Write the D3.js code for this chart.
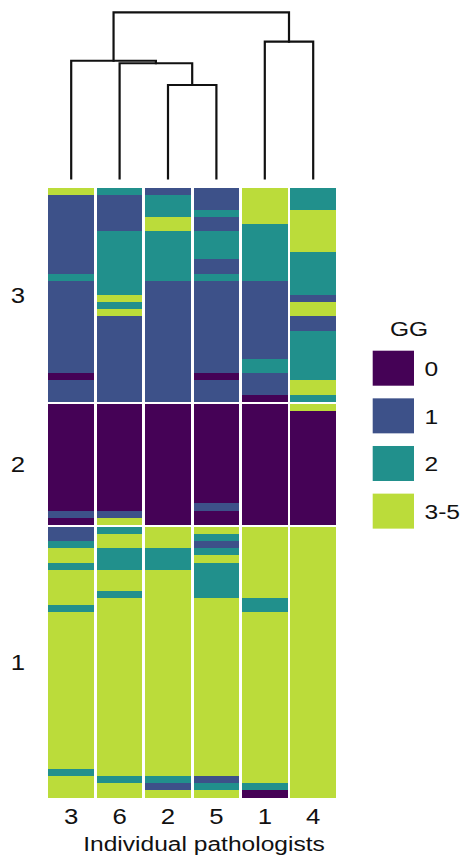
<!DOCTYPE html>
<html>
<head>
<meta charset="utf-8">
<script src="https://cdn.jsdelivr.net/npm/d3@7"></script>
<style>
  html, body { margin: 0; padding: 0; background: #ffffff; }
  svg { display: block; }
  text { font-family: "Liberation Sans", Arial, Helvetica, sans-serif; fill: #111; }
</style>
</head>
<body>
<svg id="chart" width="461" height="858"></svg>
<script>
// ---------------- DATA ----------------
// Column order (as in the dendrogram)
const pathologists = ["3", "6", "2", "5", "1", "4"];
// Grade categories (code 0..3)
const gradeLabels = ["0", "1", "2", "3-5"];
const gradeColors = ["#450256", "#3d5189", "#21908c", "#bbdc3a"];
// Row groups (top to bottom)
const rowGroups = ["3", "2", "1"];

// Each row = one case; values per pathologist in column order [3,6,2,5,1,4]
const casesGroup3 = [
  [3,2,1,1,3,2],
  [1,1,2,1,3,2],
  [1,1,2,1,3,2],
  [1,1,2,2,3,3],
  [1,1,3,1,3,3],
  [1,1,3,1,2,3],
  [1,2,2,2,2,3],
  [1,2,2,2,2,3],
  [1,2,2,2,2,3],
  [1,2,2,2,2,2],
  [1,2,2,1,2,2],
  [1,2,2,1,2,2],
  [2,2,2,2,2,2],
  [1,2,1,1,1,2],
  [1,2,1,1,1,2],
  [1,3,1,1,1,1],
  [1,2,1,1,1,3],
  [1,3,1,1,1,3],
  [1,1,1,1,1,1],
  [1,1,1,1,1,1],
  [1,1,1,1,1,2],
  [1,1,1,1,1,2],
  [1,1,1,1,1,2],
  [1,1,1,1,1,2],
  [1,1,1,1,2,2],
  [1,1,1,1,2,2],
  [0,1,1,0,1,2],
  [1,1,1,1,1,3],
  [1,1,1,1,1,3],
  [1,1,1,1,0,2]
];
const casesGroup2 = [
  [0,0,0,0,0,3],
  [0,0,0,0,0,0],
  [0,0,0,0,0,0],
  [0,0,0,0,0,0],
  [0,0,0,0,0,0],
  [0,0,0,0,0,0],
  [0,0,0,0,0,0],
  [0,0,0,0,0,0],
  [0,0,0,0,0,0],
  [0,0,0,0,0,0],
  [0,0,0,0,0,0],
  [0,0,0,0,0,0],
  [0,0,0,0,0,0],
  [0,0,0,0,0,0],
  [0,0,0,1,0,0],
  [1,1,0,0,0,0],
  [0,3,0,0,0,0]
];
const casesGroup1 = [
  [1,2,3,3,3,3],
  [1,3,3,2,3,3],
  [2,3,3,1,3,3],
  [3,2,2,2,3,3],
  [3,2,2,3,3,3],
  [2,2,2,2,3,3],
  [3,3,3,2,3,3],
  [3,3,3,2,3,3],
  [3,3,3,2,3,3],
  [3,2,3,2,3,3],
  [3,3,3,3,2,3],
  [2,3,3,3,2,3],
  [3,3,3,3,3,3],
  [3,3,3,3,3,3],
  [3,3,3,3,3,3],
  [3,3,3,3,3,3],
  [3,3,3,3,3,3],
  [3,3,3,3,3,3],
  [3,3,3,3,3,3],
  [3,3,3,3,3,3],
  [3,3,3,3,3,3],
  [3,3,3,3,3,3],
  [3,3,3,3,3,3],
  [3,3,3,3,3,3],
  [3,3,3,3,3,3],
  [3,3,3,3,3,3],
  [3,3,3,3,3,3],
  [3,3,3,3,3,3],
  [3,3,3,3,3,3],
  [3,3,3,3,3,3],
  [3,3,3,3,3,3],
  [3,3,3,3,3,3],
  [3,3,3,3,3,3],
  [3,3,3,3,3,3],
  [2,3,3,3,3,3],
  [3,2,2,1,3,3],
  [3,3,1,2,2,3],
  [3,3,3,3,0,3]
];

// Column dendrogram (merge heights)
const dendrogram = {
  height: 10, children: [
    { height: 7.08, children: [
      { name: "3", height: 0 },
      { height: 6.93, children: [
        { name: "6", height: 0 },
        { height: 5.62, children: [
          { name: "2", height: 0 },
          { name: "5", height: 0 }
        ]}
      ]}
    ]},
    { height: 8.23, children: [
      { name: "1", height: 0 },
      { name: "4", height: 0 }
    ]}
  ]
};

const xAxisTitle = "Individual pathologists";
const legendTitle = "GG";

// ---------------- DRAW ----------------
const svg = d3.select("#chart");
const SX = 1.17;     // horizontal stretch of the original typesetting
const FS = 21;       // title font size
const FD = 22;       // digit label font size

const groups = [casesGroup3, casesGroup2, casesGroup1];
const totalRows = d3.sum(groups, g => g.length);
const gap = 2.2;

const x = d3.scaleBand()
  .domain(pathologists)
  .range([47, 337.4])
  .paddingInner(0.056)
  .paddingOuter(0.028);

const rowY = d3.scaleLinear()
  .domain([0, totalRows])
  .range([188.3, 797.3 - gap * (groups.length - 1)]);

const color = d3.scaleOrdinal().domain(d3.range(gradeLabels.length)).range(gradeColors);

// cells
const heat = svg.append("g").attr("shape-rendering", "crispEdges");
let offset = 0;
const groupExtents = [];
groups.forEach((g, gi) => {
  const y0 = rowY(offset) + gi * gap;
  const y1 = rowY(offset + g.length) + gi * gap;
  groupExtents.push([y0, y1]);
  const yb = d3.scaleBand().domain(d3.range(g.length)).range([y0, y1]).padding(0);
  g.forEach((row, ri) => {
    row.forEach((v, ci) => {
      heat.append("rect")
        .attr("x", x(pathologists[ci]))
        .attr("y", yb(ri))
        .attr("width", x.bandwidth())
        .attr("height", yb.bandwidth() + 0.4)
        .attr("fill", color(v));
    });
  });
  offset += g.length;
});

// row group labels
rowGroups.forEach((lab, gi) => {
  const cy = (groupExtents[gi][0] + groupExtents[gi][1]) / 2;
  svg.append("text")
    .attr("transform", `translate(17.8,${cy + 8}) scale(${SX},1)`)
    .attr("text-anchor", "middle")
    .attr("font-size", FD)
    .text(lab);
});

// column labels
pathologists.forEach(p => {
  svg.append("text")
    .attr("transform", `translate(${x(p) + x.bandwidth() / 2},824) scale(${SX},1)`)
    .attr("text-anchor", "middle")
    .attr("font-size", FD)
    .text(p);
});

// axis title
svg.append("text")
  .attr("transform", `translate(204,851) scale(${SX},1)`)
  .attr("text-anchor", "middle")
  .attr("font-size", FS)
  .text(xAxisTitle);

// dendrogram
const hy = d3.scaleLinear().domain([0, 10]).range([178.3, 12.3]);
const root = d3.hierarchy(dendrogram);
root.eachAfter(n => {
  if (!n.children) n.px = x(n.data.name) + x.bandwidth() / 2;
  else n.px = d3.mean(n.children, c => c.px);
  n.py = hy(n.data.height);
});
const dg = svg.append("g")
  .attr("fill", "none")
  .attr("stroke", "#111")
  .attr("stroke-width", 2.2)
  .attr("stroke-linejoin", "miter")
  .attr("stroke-linecap", "square");
root.each(n => {
  if (!n.children) return;
  const [a, b] = n.children;
  dg.append("path")
    .attr("d", `M${a.px},${a.py}V${n.py}H${b.px}V${b.py}`);
});

// legend
svg.append("text")
  .attr("transform", `translate(409,336) scale(${SX},1)`)
  .attr("text-anchor", "middle")
  .attr("font-size", FS)
  .text(legendTitle);
const ly = d3.scaleBand().domain(d3.range(gradeLabels.length)).range([350.7, 530.7]).paddingInner(0.222).paddingOuter(0);
gradeLabels.forEach((lab, i) => {
  svg.append("rect")
    .attr("x", 372.7)
    .attr("y", ly(i))
    .attr("width", 41.3)
    .attr("height", 35)
    .attr("fill", color(i));
  svg.append("text")
    .attr("transform", `translate(424.5,${ly(i) + 17.5 + 7.7}) scale(${SX},1)`)
    .attr("font-size", FS)
    .text(lab);
});
</script>
</body>
</html>
